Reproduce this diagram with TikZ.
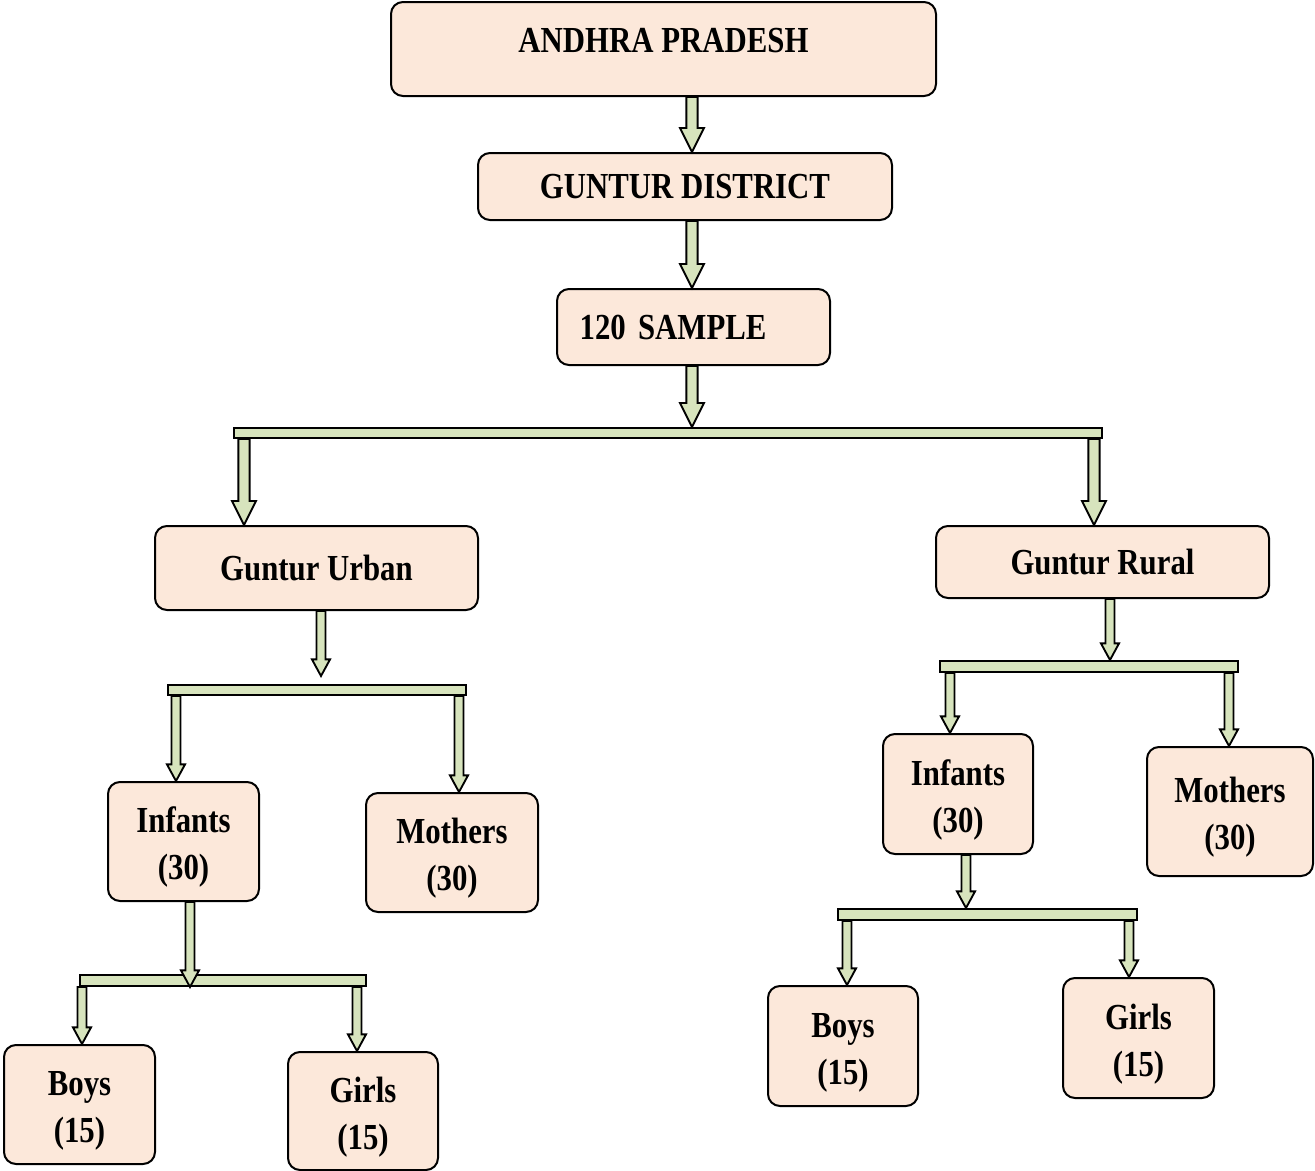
\documentclass[tikz,border=0pt]{standalone}
\usepackage{fontspec}
\setmainfont{Liberation Serif}[FakeStretch=0.84]
\usetikzlibrary{calc}

\definecolor{boxpeach}{RGB}{252,232,218}
\definecolor{arrowgreen}{RGB}{215,228,189}

\newcommand{\boxlift}[1]{\rule{0pt}{#1}}

\tikzset{every picture/.style={line width=0.75pt}}

\begin{document}
\begin{tikzpicture}[x=0.75pt,y=-0.75pt,
	sz/.style 2 args={minimum width=#1*0.75pt, minimum height=#2*0.75pt},
	box/.style={draw, fill=boxpeach, line width=1.5pt, rounded corners=9pt, inner sep=0pt,
		align=center, font=\bfseries\fontsize{27.5}{35.5}\selectfont},
	bar/.style={draw, fill=arrowgreen, line width=1.5pt, inner sep=0pt},
	blockarrow/.style n args={3}{draw, fill=arrowgreen, line width=1.4pt, line join=miter,
		to path={let \p1=(\tikztostart), \p2=(\tikztotarget) in
			(\x1-#1,\y1) -- (\x1-#1,\y2+#3) -- (\x1-#2,\y2+#3) -- (\x1,\y2)
			-- (\x1+#2,\y2+#3) -- (\x1+#1,\y2+#3) -- (\x1+#1,\y1) -- cycle}},
	bigarrow/.style={blockarrow={4.2pt}{9pt}{18pt}},
	smallarrow/.style={blockarrow={3.4pt}{6.8pt}{12.5pt}}]
	\useasboundingbox (0,0) rectangle (1315,1171);

	% top of the tree
	\node[box, sz={545}{94}, text height=37.5pt, text depth=33pt] (ap) at (663.5,49) {ANDHRA PRADESH};
	\node[box, sz={414}{67}] (gd) at (685,186.5) {GUNTUR DISTRICT};
	\node[box, sz={273}{76}, inner xsep=17pt, text width=170.75pt, align=left] (smp) at (693.5,327) {120 SAMPLE};
	\node[bar, sz={868}{10}] (mbar) at (668,433) {};

	% urban side
	\node[box, sz={323}{84}] (gu) at (316.5,568) {Guntur Urban};
	\node[bar, sz={298}{10}] (ubar) at (317,690) {};
	\node[box, sz={151}{119}] (uinf) at (183.5,841.5) {\boxlift{28pt}Infants\\(30)};
	\node[box, sz={172}{119}] (umot) at (452,852.5) {\boxlift{28pt}Mothers\\(30)};
	\node[bar, sz={286}{11}] (uibar) at (223,980.5) {};
	\node[box, sz={151}{119}] (uboy) at (79.5,1104.5) {\boxlift{28pt}Boys\\(15)};
	\node[box, sz={150}{118}] (ugirl) at (363,1111) {\boxlift{28pt}Girls\\(15)};

	% rural side
	\node[box, sz={333}{72}] (gr) at (1102.5,562) {Guntur Rural};
	\node[bar, sz={298}{11}] (rbar) at (1089,666.5) {};
	\node[box, sz={150}{120}] (rinf) at (958,794) {\boxlift{28pt}Infants\\(30)};
	\node[box, sz={166}{129}] (rmot) at (1230,811.5) {\boxlift{28pt}Mothers\\(30)};
	\node[bar, sz={299}{11}] (ribar) at (987.5,914.5) {};
	\node[box, sz={150}{120}] (rboy) at (843,1046) {\boxlift{28pt}Boys\\(15)};
	\node[box, sz={151}{120}] (rgirl) at (1138.5,1038) {\boxlift{28pt}Girls\\(15)};

	% arrow columns
	\coordinate (cmain) at (692,0);
	\coordinate (cgu) at (244,0);
	\coordinate (cgr) at (1094,0);
	\coordinate (cu) at (321,0);
	\coordinate (cuinf) at (176,0);
	\coordinate (cumot) at (459,0);
	\coordinate (cui) at (190,0);
	\coordinate (cuboy) at (82,0);
	\coordinate (cugirl) at (357,0);
	\coordinate (cr) at (1110,0);
	\coordinate (crinf) at (950,0);
	\coordinate (crmot) at (1229,0);
	\coordinate (cri) at (966,0);
	\coordinate (crboy) at (847,0);
	\coordinate (crgirl) at (1129,0);

	% arrows
	\draw[bigarrow] (ap.south -| cmain) to (gd.north -| cmain);
	\draw[bigarrow] (gd.south -| cmain) to (smp.north -| cmain);
	\draw[bigarrow] (smp.south -| cmain) to (mbar.north -| cmain);
	\draw[bigarrow] (mbar.south -| cgu) to (gu.north -| cgu);
	\draw[bigarrow] (mbar.south -| cgr) to (gr.north -| cgr);

	\draw[smallarrow] (gu.south -| cu) to ([yshift=6pt]ubar.north -| cu);
	\draw[smallarrow] (ubar.south -| cuinf) to (uinf.north -| cuinf);
	\draw[smallarrow] (ubar.south -| cumot) to (umot.north -| cumot);
	\draw[smallarrow] (uinf.south -| cui) to (uibar.south -| cui);
	\draw[smallarrow] (uibar.south -| cuboy) to (uboy.north -| cuboy);
	\draw[smallarrow] (uibar.south -| cugirl) to (ugirl.north -| cugirl);

	\draw[smallarrow] (gr.south -| cr) to (rbar.north -| cr);
	\draw[smallarrow] (rbar.south -| crinf) to (rinf.north -| crinf);
	\draw[smallarrow] (rbar.south -| crmot) to (rmot.north -| crmot);
	\draw[smallarrow] (rinf.south -| cri) to (ribar.north -| cri);
	\draw[smallarrow] (ribar.south -| crboy) to (rboy.north -| crboy);
	\draw[smallarrow] (ribar.south -| crgirl) to (rgirl.north -| crgirl);
\end{tikzpicture}
\end{document}
